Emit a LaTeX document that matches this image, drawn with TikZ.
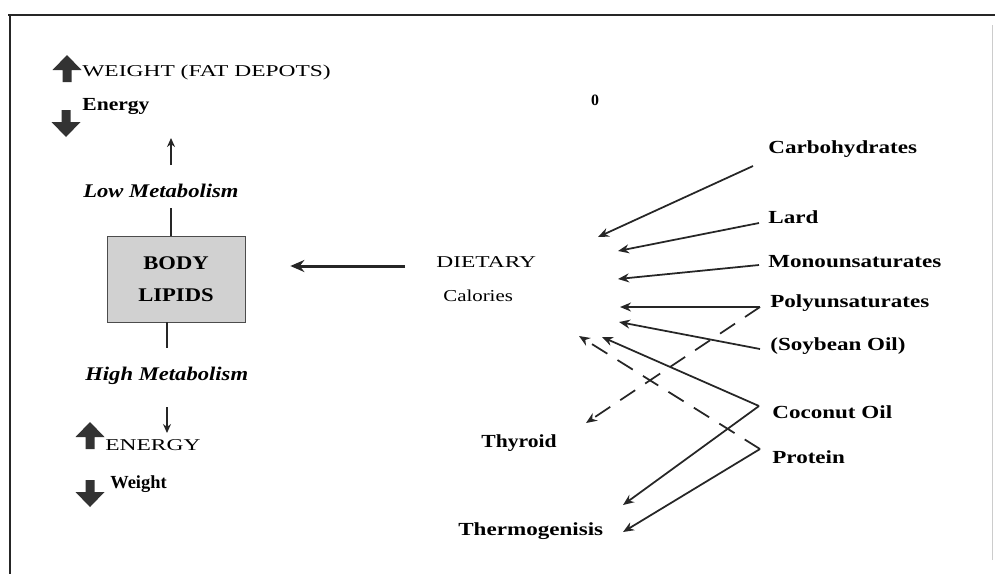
\documentclass[tikz,border=0pt]{standalone}
\usepackage{fontspec}
\setmainfont{Liberation Serif}
\newfontfamily\widefont{Liberation Serif}[FakeStretch=1.42]
\newfontfamily\midfont{Liberation Serif}[FakeStretch=1.25]
\newfontfamily\lowfont{Liberation Serif}[FakeStretch=1.17]
\usetikzlibrary{arrows.meta,calc,positioning}
\tikzset{lbl/.style={anchor=base west,inner sep=0pt,font=\midfont\bfseries\fontsize{10.5}{12}\selectfont},
  capslbl/.style={lbl,font=\widefont\fontsize{9.4}{11}\selectfont},
  metab/.style={lbl,font=\lowfont\bfseries\itshape\fontsize{11}{13}\selectfont},
  lipbox/.style={draw=black!70,fill=black!18,minimum width=2.76cm,minimum height=1.72cm,align=center,
    inner sep=0pt,font=\lowfont\bfseries\fontsize{11}{18.2}\selectfont},
  arr/.style={-{Stealth[length=2.2mm,width=1.8mm]},line width=1pt,draw=black!85},
  darr/.style={arr,dash pattern=on 0.36cm off 0.24cm},
  sarr/.style={-{Stealth[length=1.8mm,width=1.6mm]},line width=1.4pt,draw=black!85},
  bigarr/.style={-{Stealth[length=2.8mm,width=2.4mm]},line width=1.7pt,draw=black!85},
  stem/.style={line width=1.6pt,draw=black!85},
  blkup/.pic={\fill[black!80] (0,0)--(0.29,-0.3)--(0.09,-0.3)--(0.09,-0.54)--(-0.09,-0.54)--(-0.09,-0.3)--(-0.29,-0.3)--cycle;}}

\begin{document}
\begin{tikzpicture}
\useasboundingbox (0,0) rectangle (19.9,-11.48);
% frame of the scanned page
\draw[line width=1.5pt,black!85] (0.16,-0.30) -- (19.9,-0.30);
\draw[line width=1.5pt,black!85] (0.20,-0.30) -- (0.20,-11.48);
\draw[black!20] (19.84,-0.5) -- (19.84,-11.2);

% left column
\pic at (1.34,-1.10) {blkup};
\node[capslbl] (wfat) at (1.64,-1.52) {WEIGHT (FAT DEPOTS)};
\node[lbl,font=\lowfont\bfseries\fontsize{10.5}{12}\selectfont] (en1) at (1.64,-2.20) {Energy};
\pic[rotate=180] at (1.32,-2.74) {blkup};
\node[metab] (lowmet) at (1.66,-3.94) {Low Metabolism};
\node[lipbox] (lip) at (3.52,-5.58) {BODY\\LIPIDS};
\node[metab] (highmet) at (1.70,-7.60) {High Metabolism};
\pic at (1.80,-8.44) {blkup};
\node[capslbl] (en2) at (2.10,-9.00) {ENERGY};
\pic[rotate=180] at (1.80,-10.14) {blkup};
\node[lbl,font=\bfseries\fontsize{10.5}{12}\selectfont] (wt) at (2.20,-9.76) {Weight};

\coordinate (upA) at (3.42,-3.30);
\coordinate (upB) at (3.42,-2.76);
\coordinate (lmS) at (3.42,-4.16);
\coordinate (hmS) at (3.34,-6.96);
\coordinate (dnA) at (3.34,-8.14);
\coordinate (dnB) at (3.34,-8.66);
\draw[sarr] (upA) -- (upB);
\draw[stem] (lmS) -- (lmS |- lip.north);
\draw[stem] (hmS |- lip.south) -- (hmS);
\draw[sarr] (dnA) -- (dnB);

% middle
\node[capslbl] (diet) at (8.72,-5.34) {DIETARY};
\node[lbl,font=\midfont\fontsize{9.5}{11}\selectfont] (cal) at (8.86,-6.02) {Calories};
\node[inner sep=0pt,font=\bfseries\fontsize{9}{10}\selectfont] (zero) at (11.90,-2.00) {0};
\coordinate (dA) at (8.10,-5.32);
\draw[bigarr] (dA) -- ([xshift=0.9cm]lip.east |- dA);

% sources on the right
\node[lbl] (carb) at (15.36,-3.06) {Carbohydrates};
\node[lbl] (lard) at (15.36,-4.46) {Lard};
\node[lbl] (mono) at (15.36,-5.34) {Monounsaturates};
\node[lbl] (poly) at (15.40,-6.14) {Polyunsaturates};
\node[lbl] (soy) at (15.40,-7.00) {(Soybean Oil)};
\node[lbl] (coco) at (15.44,-8.36) {Coconut Oil};
\node[lbl] (prot) at (15.44,-9.26) {Protein};
\node[lbl,font=\lowfont\bfseries\fontsize{10.5}{12}\selectfont] (thy) at (9.62,-8.94) {Thyroid};
\node[lbl] (thermo) at (9.16,-10.70) {Thermogenisis};

\coordinate (carbS) at (15.06,-3.32); \coordinate (carbT) at (11.96,-4.74);
\coordinate (lardS) at (15.18,-4.46); \coordinate (lardT) at (12.36,-5.02);
\coordinate (monoS) at (15.18,-5.30); \coordinate (monoT) at (12.36,-5.58);
\coordinate (polyS) at (15.20,-6.14); \coordinate (polyT) at (12.40,-6.14);
\coordinate (soyS) at (15.20,-6.98);  \coordinate (soyT) at (12.38,-6.44);
\coordinate (cocoS) at (15.18,-8.12); \coordinate (cocoT) at (12.04,-6.74);
\coordinate (protS) at (15.20,-8.98);
\coordinate (thyT) at (11.72,-8.46);
\coordinate (calT) at (11.58,-6.72);
\coordinate (thmA) at (12.46,-10.10);
\coordinate (thmB) at (12.46,-10.64);

\foreach \s/\t in {carbS/carbT,lardS/lardT,monoS/monoT,polyS/polyT,soyS/soyT,cocoS/cocoT,cocoS/thmA,protS/thmB}
  \draw[arr] (\s) -- (\t);
\draw[darr] (polyS) -- (thyT);
\draw[darr] (protS) -- (calT);
\end{tikzpicture}
\end{document}
